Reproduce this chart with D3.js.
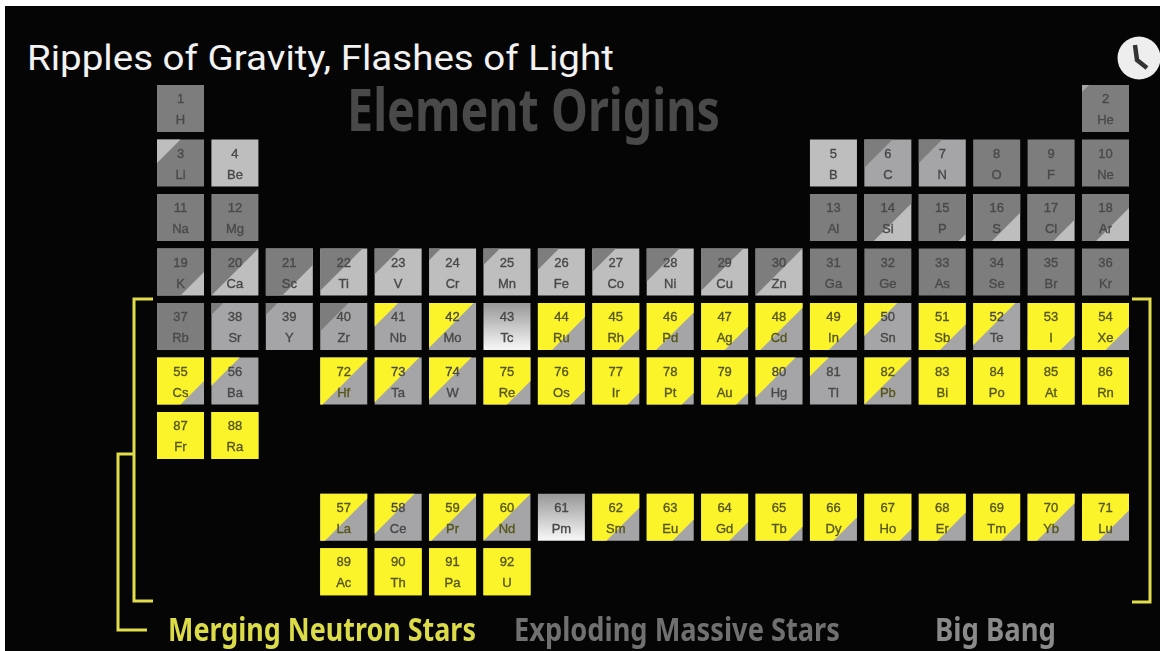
<!DOCTYPE html>
<html>
<head>
<meta charset="utf-8">
<script src="https://cdn.jsdelivr.net/npm/d3@7"></script>
<style>
    html, body { margin: 0; padding: 0; background: #fff; overflow: hidden; }
    svg { display: block; }
</style>
</head>
<body>
<svg id="chart" width="1160" height="651"></svg>
<script>
// Elements in atomic number order, index 0 is hydrogen.
const symbols = ["H","He","Li","Be","B","C","N","O","F","Ne","Na","Mg","Al","Si","P","S","Cl","Ar",
    "K","Ca","Sc","Ti","V","Cr","Mn","Fe","Co","Ni","Cu","Zn","Ga","Ge","As","Se","Br","Kr",
    "Rb","Sr","Y","Zr","Nb","Mo","Tc","Ru","Rh","Pd","Ag","Cd","In","Sn","Sb","Te","I","Xe",
    "Cs","Ba","La","Ce","Pr","Nd","Pm","Sm","Eu","Gd","Tb","Dy","Ho","Er","Tm","Yb","Lu",
    "Hf","Ta","W","Re","Os","Ir","Pt","Au","Hg","Tl","Pb","Bi","Po","At","Rn",
    "Fr","Ra","Ac","Th","Pa","U"];

const groups = [1,18,1,2,13,14,15,16,17,18,1,2,13,14,15,16,17,18,
    1,2,3,4,5,6,7,8,9,10,11,12,13,14,15,16,17,18,
    1,2,3,4,5,6,7,8,9,10,11,12,13,14,15,16,17,18,
    1,2,4,5,6,7,8,9,10,11,12,13,14,15,16,17,18,
    4,5,6,7,8,9,10,11,12,13,14,15,16,17,18,
    1,2,4,5,6,7];

// 8.5 and 9.5 are the detached lanthanide and actinide rows.
const periods = [1,1,2,2,2,2,2,2,2,2,3,3,3,3,3,3,3,3,
    4,4,4,4,4,4,4,4,4,4,4,4,4,4,4,4,4,4,
    5,5,5,5,5,5,5,5,5,5,5,5,5,5,5,5,5,5,
    6,6,8.5,8.5,8.5,8.5,8.5,8.5,8.5,8.5,8.5,8.5,8.5,8.5,8.5,8.5,8.5,
    6,6,6,6,6,6,6,6,6,6,6,6,6,6,6,
    7,7,9.5,9.5,9.5,9.5];

// How far the diagonal sits from the top left corner: 0 none, 1 corner to corner, 2 whole cell.
const splitAt = [0,0.15,0.5,0,0,0.6,0.5,0,0,0,0,0,0,1.2,1.85,1.4,1.55,1.3,
    1.5,1.0,1.35,0.9,0.55,0.25,0.35,0.45,0.5,0.7,0.9,1.0,0,0,0,0,0,0,
    0,0.25,0.25,0.6,0.5,0.95,0,1.3,1.55,1.2,1.5,1.1,1.4,0.7,1.45,0.9,1.7,1.5,
    1.5,0.6,1.1,0.85,1.05,1.0,0,1.3,1.55,1.6,1.7,1.5,1.75,1.4,1.6,1.2,1.35,
    1.05,0.95,0.9,1.5,1.7,1.75,1.75,1.75,0.85,0.4,1.0,2,2,2,2,
    2,2,2,2,2,2];

const cornerKind = ["d","m","l","l","l","d","d","d","d","d","d","d","d","d","d","d","d","d",
    "d","d","d","d","d","d","d","d","d","d","d","d","d","d","d","d","d","d",
    "d","d","d","d","y","y","g","y","y","y","y","y","y","y","y","y","y","y",
    "y","y","y","y","y","y","g","y","y","y","y","y","y","y","y","y","y",
    "y","y","y","y","y","y","y","y","y","y","y","y","y","y","y",
    "y","y","y","y","y","y"];

const restKind = ["d","d","d","l","l","m","m","d","d","d","d","d","d","l","l","l","l","l",
    "l","l","l","l","l","l","l","l","l","l","l","l","d","d","d","d","d","d",
    "d","m","m","m","m","m","g","m","m","m","m","m","m","m","m","m","m","m",
    "m","m","m","m","m","m","g","m","m","m","m","m","m","m","m","m","m",
    "m","m","m","m","m","m","m","m","m","m","m","y","y","y","y",
    "y","y","y","y","y","y"];

const legendLabels = ["Merging Neutron Stars", "Exploding Massive Stars", "Big Bang"];
const legendColors = ["#dcdc48", "#707070", "#8a8a8a"];
const legendSpans = [[168, 476], [514, 840], [935, 1056]];

const kindColors = {d: "#7d7d7d", m: "#a5a5a8", l: "#bebebe", y: "#fcf42c", g: "url(#promethium)"};
const cellSize = 47;
const condensed = "'Noto Sans', sans-serif";

let svg = d3.select("#chart");

let defs = svg.append("defs");
defs.append("filter").attr("id", "soft")
    .append("feGaussianBlur").attr("stdDeviation", 0.65);
let gradient = defs.append("linearGradient").attr("id", "promethium")
    .attr("x1", 0).attr("y1", 0).attr("x2", 0).attr("y2", 1);
gradient.append("stop").attr("offset", "5%").attr("stop-color", "#9c9c9c");
gradient.append("stop").attr("offset", "95%").attr("stop-color", "#f4f4f4");

// Frame of the video still: white strip on the top and left.
svg.append("rect").attr("x", 5).attr("y", 6).attr("width", 1155).attr("height", 645).attr("fill", "#050506");

// Squeeze a text horizontally until it fills the given span.
function fitText(selection, span, baseline) {
    selection.each(function () {
        let sx = span / this.getComputedTextLength();
        d3.select(this).attr("transform", "translate(" + baseline[0] + "," + baseline[1] + ") scale(" + sx + ",1)");
    });
}

svg.append("text")
    .attr("font-family", "Roboto, sans-serif").attr("font-size", 35)
    .attr("fill", "#f2f2f2")
    .text("Ripples of Gravity, Flashes of Light")
    .call(fitText, 587, [27, 70]);

// Clock badge in the corner
let clock = svg.append("g").attr("transform", "translate(1139,58)");
clock.append("circle").attr("r", 21.5).attr("fill", "#eeeeee");
clock.append("path").attr("d", "M-4,-13 L-2,2 L8,10")
    .attr("fill", "none").attr("stroke", "#333").attr("stroke-width", 4.5);

let chart = svg.append("g").attr("filter", "url(#soft)");

chart.append("text")
    .attr("font-family", condensed).attr("font-weight", "bold").attr("font-size", 60)
    .attr("fill", "#484848")
    .text("Element Origins")
    .call(fitText, 373, [347, 131]);

let x = d3.scaleLinear().domain([1, 18]).range([157, 1082]);
let y = d3.scaleLinear().domain([1, 7]).range([85, 412]);

let elements = symbols.map(function (symbol, i) {
    return {
        number: i + 1,
        symbol: symbol,
        group: groups[i],
        period: periods[i],
        split: splitAt[i],
        corner: cornerKind[i],
        rest: restKind[i]
    };
});

function cornerPath(d) {
    let s = d.split;
    let w = cellSize;
    let p = d3.path();
    p.moveTo(0, 0);
    if (s <= 1) {
        p.lineTo(s * w, 0);
        p.lineTo(0, s * w);
    } else {
        p.lineTo(w, 0);
        p.lineTo(w, (s - 1) * w);
        p.lineTo((s - 1) * w, w);
        p.lineTo(0, w);
    }
    p.closePath();
    return p.toString();
}

let cell = chart.selectAll(".cell")
    .data(elements)
    .enter()
    .append("g")
    .attr("class", "cell")
    .attr("transform", function (d) {
        return "translate(" + x(d.group) + "," + y(d.period) + ")";
    });

cell.append("rect")
    .attr("width", cellSize)
    .attr("height", cellSize)
    .attr("fill", function (d) {
        return kindColors[d.rest];
    });

cell.filter(function (d) {
    return d.split > 0;
}).append("path")
    .attr("d", cornerPath)
    .attr("fill", function (d) {
        return kindColors[d.corner];
    });

function inkColor(d) {
    if (d.corner === "y" && d.split >= 1) {
        return "#56561a";
    }
    return d.rest === "d" ? "#4a4a4a" : "#484848";
}

function addCellText(baseline, label) {
    cell.append("text")
        .attr("x", cellSize / 2).attr("y", baseline)
        .attr("text-anchor", "middle")
        .attr("font-family", "'Liberation Sans', sans-serif").attr("font-size", 13)
        .attr("fill", inkColor)
        .attr("stroke", inkColor).attr("stroke-width", 0.35)
        .text(label);
}

addCellText(18, function (d) {
    return d.number;
});
addCellText(39, function (d) {
    return d.symbol;
});

// Brackets tying the lower rows to the legend
let line = d3.line();
let bracketPoints = [
    [[153, 299], [134, 299], [134, 601], [153, 601]],
    [[134, 454], [118, 454], [118, 630], [147, 630]],
    [[1132, 299], [1150, 299], [1150, 602], [1132, 602]]
];
chart.selectAll(".bracket")
    .data(bracketPoints)
    .enter()
    .append("path")
    .attr("class", "bracket")
    .attr("d", line)
    .attr("fill", "none")
    .attr("stroke", "#e2dc4c")
    .attr("stroke-width", 3);

chart.selectAll(".legend")
    .data(legendLabels)
    .enter()
    .append("text")
    .attr("class", "legend")
    .attr("font-family", condensed).attr("font-weight", "bold").attr("font-size", 32)
    .attr("fill", function (d, i) {
        return legendColors[i];
    })
    .text(function (d) {
        return d;
    })
    .each(function (d, i) {
        let span = legendSpans[i];
        d3.select(this).call(fitText, span[1] - span[0], [span[0], 641]);
    });
</script>
</body>
</html>
